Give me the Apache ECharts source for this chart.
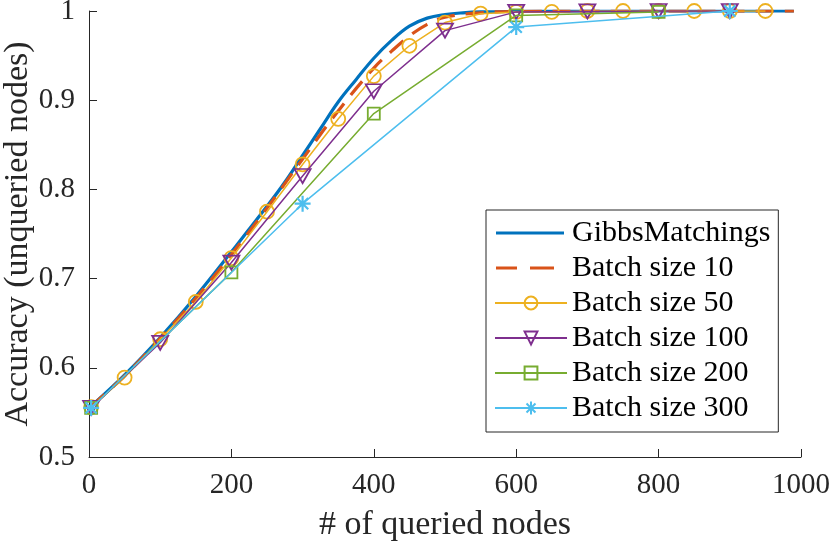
<!DOCTYPE html>
<html>
<head>
<meta charset="utf-8">
<script src="https://cdn.jsdelivr.net/npm/echarts@6/dist/echarts.min.js"></script>
<style>html,body{margin:0;padding:0;background:#fff}#c{width:830px;height:541px}</style>
</head>
<body>
<div id="c"></div>
<script>
var gibbsX = [3, 50, 100, 150, 200, 250, 275, 300, 325, 350, 375, 400, 425, 450, 475, 500, 525, 550, 600, 700, 800, 900, 990];
var gibbsY = [0.557, 0.592, 0.634, 0.680, 0.730, 0.781, 0.808, 0.838, 0.868, 0.898, 0.923, 0.947, 0.967, 0.983, 0.992, 0.996, 0.998, 0.999, 0.9995, 1.0, 1.0, 1.0, 1.0];
var b10X = [3, 50, 100, 150, 200, 250, 300, 350, 400, 425, 450, 475, 500, 550, 600, 700, 800, 900, 990];
var b10Y = [0.557, 0.591, 0.633, 0.678, 0.727, 0.779, 0.834, 0.888, 0.936, 0.955, 0.972, 0.985, 0.993, 0.998, 0.9995, 1.0, 1.0, 1.0, 1.0];
var b50X = [3, 50, 100, 150, 200, 250, 300, 350, 400, 450, 500, 550, 600, 650, 700, 750, 800, 850, 900, 950];
var b50Y = [0.556, 0.589, 0.632, 0.674, 0.723, 0.775, 0.828, 0.879, 0.927, 0.961, 0.987, 0.997, 0.999, 0.999, 1.0, 1.0, 1.0, 1.0, 1.0, 1.0];
var b100X = [3, 100, 200, 300, 400, 500, 600, 700, 800, 900];
var b100Y = [0.555, 0.628, 0.718, 0.815, 0.910, 0.978, 0.999, 0.9995, 1.0, 1.0];
var b200X = [3, 200, 400, 600, 800];
var b200Y = [0.555, 0.707, 0.885, 0.995, 0.999];
var b300X = [3, 300, 600, 900];
var b300Y = [0.555, 0.784, 0.982, 1.0];
var xTicks = [0, 200, 400, 600, 800, 1000];
var yTicks = [0.5, 0.6, 0.7, 0.8, 0.9, 1];
var names = ['GibbsMatchings', 'Batch size 10', 'Batch size 50', 'Batch size 100', 'Batch size 200', 'Batch size 300'];

function pairs(xs, ys) { return xs.map(function (x, i) { return [x, ys[i]]; }); }
var FONT = 'Liberation Serif';
var TXT = '#262626';
var star = 'path://M10,0 L10,20 M0,10 L20,10 M3,3 L17,17 M17,3 L3,17';
// legend icons (box 72 x 16) for the marker-less lines
var box = 'M0,0 L0.01,0 L0,0.01 Z M72,16 L71.99,16 L72,15.99 Z ';
var solidIcon = 'path://' + box + 'M1,6.4 L69,6.4 L69,9.6 L1,9.6 Z';
var dashIcon = 'path://' + box + 'M1,6.4 L22,6.4 L22,9.6 L1,9.6 Z M35,6.4 L59,6.4 L59,9.6 L35,9.6 Z';

var chart = echarts.init(document.getElementById('c'));
chart.setOption({
  animation: false,
  grid: { left: 89, right: 29, top: 11, bottom: 84, containLabel: false, outerBoundsMode: 'none' },
  legend: {
    orient: 'vertical', left: 486, top: 210,
    padding: [8, 8, 9, 8],
    borderColor: '#262626', borderWidth: 1, backgroundColor: '#fff',
    itemWidth: 72, itemHeight: 16, itemGap: 5,
    textStyle: { fontFamily: FONT, fontSize: 30, color: '#000', lineHeight: 30 },
    data: [
      { name: names[0], icon: solidIcon },
      { name: names[1], icon: dashIcon },
      names[2], names[3], names[4], names[5]
    ]
  },
  xAxis: {
    type: 'value', min: 0, max: 1000, interval: 200,
    name: '# of queried nodes', nameLocation: 'middle', nameGap: 51, nameMoveOverlap: false,
    nameTextStyle: { fontFamily: FONT, fontSize: 34, color: TXT },
    axisLine: { show: true, lineStyle: { color: TXT, width: 1 } },
    axisTick: { show: true, inside: true, length: 8, lineStyle: { color: TXT } },
    axisLabel: { fontFamily: FONT, fontSize: 29, color: TXT, margin: 14,
      formatter: function (v) { return xTicks.indexOf(v) >= 0 ? String(v) : ''; } },
    splitLine: { show: false }
  },
  yAxis: {
    type: 'value', min: 0.5, max: 1, interval: 0.1,
    name: 'Accuracy (unqueried nodes)', nameLocation: 'middle', nameGap: 54, nameMoveOverlap: false,
    nameTextStyle: { fontFamily: FONT, fontSize: 34, color: TXT },
    axisLine: { show: true, lineStyle: { color: TXT, width: 1 } },
    axisTick: { show: true, inside: true, length: 8, lineStyle: { color: TXT } },
    axisLabel: { fontFamily: FONT, fontSize: 29, color: TXT, margin: 14,
      formatter: function (v) {
        var r = Math.round(v * 10) / 10;
        return yTicks.indexOf(r) >= 0 ? String(r) : '';
      } },
    splitLine: { show: false }
  },
  series: [
    { name: names[0], type: 'line', data: pairs(gibbsX, gibbsY), smooth: 0.4, showSymbol: false, symbol: 'none', z: 2,
      lineStyle: { color: '#0072BD', width: 3.2 }, itemStyle: { color: '#0072BD' } },
    { name: names[1], type: 'line', data: pairs(b10X, b10Y), smooth: 0.4, showSymbol: false, symbol: 'none', z: 3,
      lineStyle: { color: '#D95319', width: 3.2, type: [18, 11] }, itemStyle: { color: '#D95319' } },
    { name: names[2], type: 'line', data: pairs(b50X, b50Y), symbol: 'circle', symbolSize: 14, z: 4,
      lineStyle: { color: '#EDB120', width: 1.5 },
      itemStyle: { color: 'transparent', borderColor: '#EDB120', borderWidth: 1.8 } },
    { name: names[3], type: 'line', data: pairs(b100X, b100Y), symbol: 'triangle', symbolRotate: 180, symbolSize: [16, 14], z: 5,
      lineStyle: { color: '#7E2F8E', width: 1.5 },
      itemStyle: { color: 'transparent', borderColor: '#7E2F8E', borderWidth: 1.8 } },
    { name: names[4], type: 'line', data: pairs(b200X, b200Y), symbol: 'rect', symbolSize: 12, z: 6,
      lineStyle: { color: '#77AC30', width: 1.5 },
      itemStyle: { color: 'transparent', borderColor: '#77AC30', borderWidth: 1.8 } },
    { name: names[5], type: 'line', data: pairs(b300X, b300Y), symbol: star, symbolSize: 16, z: 7,
      lineStyle: { color: '#4DBEEE', width: 1.5 },
      itemStyle: { color: 'transparent', borderColor: '#4DBEEE', borderWidth: 2.2 } }
  ]
});
</script>
</body>
</html>
